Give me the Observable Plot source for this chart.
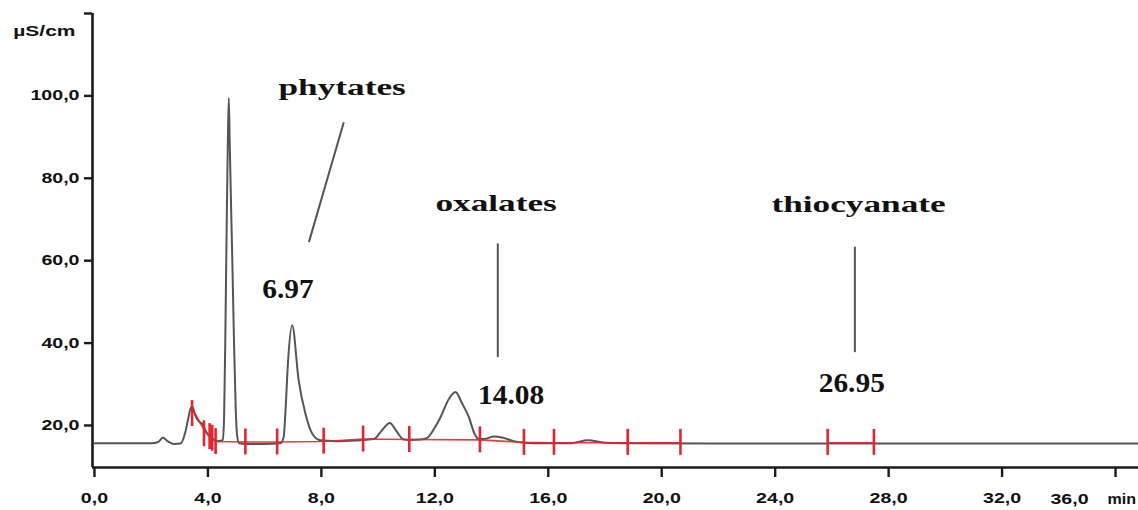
<!DOCTYPE html>
<html>
<head>
<meta charset="utf-8">
<script src="https://cdn.jsdelivr.net/npm/d3@7"></script>
<script src="https://cdn.jsdelivr.net/npm/@observablehq/plot@0.6"></script>
<style>
  html, body { margin: 0; padding: 0; background: #fff; }
  #chart { width: 1138px; height: 510px; overflow: hidden; }
</style>
</head>
<body>
<div id="chart"></div>
<script>
// ---- Data ----
// Trace (retention time in min, conductivity in µS/cm)
const traceT = [0, 1.0, 2.0, 2.25, 2.41, 2.6, 2.8, 3.03, 3.2, 3.3, 3.38, 3.45, 3.55, 3.68, 3.8, 3.97, 4.15, 4.33, 4.45,
  4.52, 4.57, 4.62, 4.66, 4.70, 4.735, 4.77, 4.82, 4.86, 4.92, 4.98, 5.03, 5.1, 5.5, 6.0, 6.56, 6.67, 6.73, 6.82, 6.97,
  7.2, 7.44, 7.68, 7.97, 8.5, 9.0, 9.5, 9.85, 10.1, 10.41, 10.65, 10.9, 11.1, 11.5, 11.73, 12.0, 12.2, 12.5, 12.73,
  12.95, 13.2, 13.4, 13.55, 13.8, 14.08, 14.4, 14.78, 15.14, 15.5, 16.8, 17.4, 18.0, 18.6, 22.0, 30.0, 36.81];
const traceV = [15.7, 15.7, 15.7, 16.0, 17.0, 16.1, 15.5, 15.6, 18.3, 21.5, 24.0, 24.6, 22.5, 21.0, 20.4, 18.0, 16.8, 16.2, 16.3,
  16.5, 22, 45, 68, 88, 99.5, 88, 72, 60, 40, 24, 17.5, 15.7, 15.5, 15.5, 15.7, 17.2, 22.9, 35, 44.3,
  30.9, 22.8, 18.0, 16.4, 16.2, 16.3, 16.5, 16.7, 18.5, 20.6, 18.6, 16.6, 16.5, 16.6, 17.0, 19.5, 22, 26.5, 28.1,
  25.5, 22, 18, 16.7, 16.8, 17.3, 17.0, 16.2, 15.8, 15.7, 15.7, 16.4, 15.8, 15.7, 15.6, 15.6, 15.6];

// Integration markers (red)
const redTickT = [3.44, 3.86, 4.06, 4.15, 4.27, 5.32, 6.44, 8.08, 9.47, 11.1, 13.59, 15.14, 16.2, 18.8, 20.66, 25.85, 27.48];
const redTickV = [22.9, 18.0, 17.3, 16.9, 16.1, 16.0, 16.0, 16.2, 16.7, 16.6, 16.5, 15.9, 15.9, 15.9, 15.9, 15.9, 15.9];
const redLineT = [3.44, 3.86, 4.06, 4.15, 4.27, 5.32, 6.44, 8.08, 9.47, 11.1, 13.59, 15.14, 16.2, 18.8, 20.66, 25.85, 27.48];
const redLineV = [24.2, 19.0, 17.5, 17.0, 16.1, 16.0, 16.0, 16.1, 16.7, 16.6, 16.5, 15.9, 15.8, 15.8, 15.8, 15.8, 15.8];
const redLineSeg = [0, 0, 0, 0, 0, 0, 0, 0, 0, 0, 0, 0, 0, 0, 0, 1, 1];

// Axis ticks
const xTickValues = [0, 4, 8, 12, 16, 20, 24, 28, 32, 36];
const xTickLabels = ["0,0", "4,0", "8,0", "12,0", "16,0", "20,0", "24,0", "28,0", "32,0", "36,0"];
const xUnit = "min";
const yTickValues = [20, 40, 60, 80, 100, 120];
const yTickLabels = ["20,0", "40,0", "60,0", "80,0", "100,0", ""];
const yUnit = "µS/cm";
const xDomain = [-0.07, 36.81];
const yDomain = [9.8, 120];

// Annotations
const compoundNames = ["phytates", "oxalates", "thiocyanate"];
const compoundT = [8.73, 14.16, 26.94];
const compoundV = [102.0, 73.9, 73.8];
const peakLabels = ["6.97", "14.08", "26.95"];
const peakLabelT = [6.82, 14.69, 26.70];
const peakLabelV = [53.0, 27.3, 30.3];
const leaderT1 = [8.79, 14.22, 26.81];
const leaderV1 = [93.6, 64.2, 63.4];
const leaderT2 = [7.56, 14.22, 26.81];
const leaderV2 = [64.5, 36.6, 37.8];

// ---- Tables ----
const trace = traceT.map((t, i) => ({t, v: traceV[i]}));
const redTicks = redTickT.map((t, i) => ({t, v: redTickV[i]}));
const redLine = redLineT.map((t, i) => ({t, v: redLineV[i], seg: redLineSeg[i]}));
const names = compoundNames.map((s, i) => ({s, t: compoundT[i], v: compoundV[i]}));
const peaks = peakLabels.map((s, i) => ({s, t: peakLabelT[i], v: peakLabelV[i]}));
const leaders = leaderT1.map((t, i) => ({t1: t, v1: leaderV1[i], t2: leaderT2[i], v2: leaderV2[i]}));
const lastX = [{t: xTickValues[xTickValues.length - 1], s: xTickLabels[xTickLabels.length - 1]}];

const axisColor = "#1a1a1a";
const sans = "'Liberation Sans', Arial, sans-serif";
const serif = "'Liberation Serif', 'Times New Roman', serif";
const red = "#e3262e";

const chart = Plot.plot({
  width: 1138,
  height: 510,
  marginLeft: 92,
  marginRight: 0,
  marginTop: 13,
  marginBottom: 43,
  x: {domain: xDomain},
  y: {domain: yDomain},
  style: {background: "#fff", color: axisColor},
  marks: [
    // axes
    Plot.ruleX([xDomain[0]], {stroke: axisColor, strokeWidth: 2.6}),
    Plot.ruleY([yDomain[0]], {stroke: axisColor, strokeWidth: 2.6}),
    Plot.axisY({ticks: yTickValues, tickSize: 8, tickPadding: 5, strokeWidth: 2.4, stroke: axisColor,
      tickFormat: (d) => yTickLabels[yTickValues.indexOf(d)], label: null,
      fontSize: 14, fontWeight: "bold", fontFamily: sans, fill: "#111"}),
    Plot.axisX({ticks: xTickValues, tickSize: 10, tickPadding: 16, strokeWidth: 2.4, stroke: axisColor,
      tickFormat: (d) => { const i = xTickValues.indexOf(d); return i === xTickValues.length - 1 ? "" : xTickLabels[i]; },
      label: null, fontSize: 14, fontWeight: "bold", fontFamily: sans, fill: "#111"}),
    Plot.text(lastX, {x: "t", text: "s", frameAnchor: "bottom", lineAnchor: "top", textAnchor: "end", dx: -27, dy: 27,
      fontSize: 14, fontWeight: "bold", fontFamily: sans, fill: "#111"}),
    Plot.text(lastX, {x: "t", text: () => xUnit, frameAnchor: "bottom", lineAnchor: "top", textAnchor: "start", dx: -8, dy: 27,
      fontSize: 14, fontWeight: "bold", fontFamily: sans, fill: "#111"}),
    Plot.text([yUnit], {frameAnchor: "top-left", lineAnchor: "middle", textAnchor: "end", dx: -17, dy: 18,
      fontSize: 14, fontWeight: "bold", fontFamily: sans, fill: "#111"}),
    // trace
    Plot.line(trace, {x: "t", y: "v", stroke: "#555", strokeWidth: 2, curve: "monotone-x"}),
    // integration baseline & markers
    Plot.line(redLine, {x: "t", y: "v", z: "seg", stroke: red, strokeWidth: 1.6, strokeOpacity: 0.9}),
    Plot.ruleX(redTicks, {x: "t", y1: d => d.v - 3.15, y2: d => d.v + 3.15, stroke: red, strokeWidth: 2.6}),
    // annotations
    Plot.link(leaders, {x1: "t1", y1: "v1", x2: "t2", y2: "v2", stroke: "#555", strokeWidth: 2}),
    Plot.text(names, {x: "t", y: "v", text: "s", fontSize: 24, fontWeight: "bold", fontFamily: serif, fill: "#111"}),
    Plot.text(peaks, {x: "t", y: "v", text: "s", fontSize: 28, fontWeight: "bold", fontFamily: serif, fill: "#111"})
  ]
});

document.getElementById("chart").appendChild(chart);

// Horizontal stretch of the glyphs (the reference artwork is horizontally stretched).
// Positions live in each text's transform; only append a horizontal scale about the anchor.
const axisTexts = new Set([...xTickLabels, ...yTickLabels]);
chart.querySelectorAll("text").forEach(t => {
  const s = t.textContent;
  let k = null;
  if (compoundNames.includes(s)) k = 1.47;
  else if (peakLabels.includes(s)) k = 1.05;
  else if (s === yUnit) k = 1.5;
  else if (s === xUnit) k = 1.15;
  else if (axisTexts.has(s) && s !== "") k = 1.4;
  if (k == null) return;
  const xa = t.getAttribute("x");
  const numeric = xa != null && /^-?[\d.]+$/.test(xa);
  const xn = numeric ? +xa : 0;
  if (numeric) t.removeAttribute("x");
  const tr = t.getAttribute("transform") || "";
  t.setAttribute("transform", `${tr} translate(${xn},0) scale(${k},1)`);
});
</script>
</body>
</html>
